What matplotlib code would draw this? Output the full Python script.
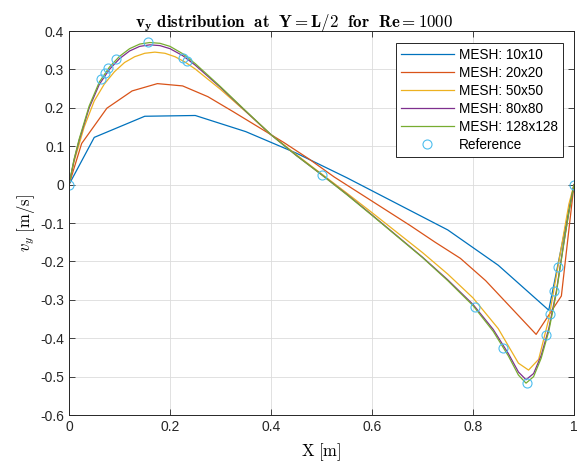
import matplotlib
matplotlib.use("Agg")
import matplotlib.pyplot as plt

plt.rcParams['mathtext.fontset'] = 'cm'
plt.rcParams['font.family'] = ['Liberation Sans', 'DejaVu Sans']

# ---- data ----
x10 = [0.0, 0.05, 0.15, 0.25, 0.35, 0.45, 0.55, 0.65, 0.75, 0.85, 0.95, 1.0]
v10 = [0.0, 0.123, 0.178, 0.180, 0.138, 0.082, 0.018, -0.050, -0.118, -0.210, -0.327, 0.0]

x20 = [0.0, 0.025, 0.075, 0.125, 0.175, 0.225, 0.275, 0.325, 0.375, 0.425, 0.475,
       0.525, 0.575, 0.625, 0.675, 0.725, 0.775, 0.825, 0.875, 0.925, 0.975, 1.0]
v20 = [0.0, 0.107, 0.199, 0.244, 0.263, 0.257, 0.229, 0.190, 0.150, 0.110, 0.067,
       0.020, -0.022, -0.064, -0.106, -0.150, -0.192, -0.250, -0.320, -0.390, -0.290, 0.0]

x50 = [0.0, 0.01, 0.03, 0.05, 0.07, 0.09, 0.11, 0.13, 0.15, 0.17, 0.19, 0.21, 0.23, 0.25,
       0.30, 0.35, 0.40, 0.45, 0.50, 0.55, 0.60, 0.65, 0.70, 0.75, 0.80, 0.85, 0.87,
       0.89, 0.91, 0.93, 0.95, 0.97, 0.99, 1.0]
v50 = [0.0, 0.060, 0.150, 0.218, 0.262, 0.294, 0.318, 0.333, 0.342, 0.345, 0.342, 0.333,
       0.319, 0.301, 0.248, 0.190, 0.130, 0.078, 0.028, -0.022, -0.073, -0.125, -0.177,
       -0.233, -0.295, -0.375, -0.420, -0.465, -0.483, -0.455, -0.350, -0.200, -0.050, 0.0]

x80 = [0.0, 0.01, 0.02, 0.04, 0.06, 0.08, 0.10, 0.12, 0.14, 0.16, 0.18, 0.20, 0.225, 0.25,
       0.30, 0.35, 0.40, 0.45, 0.50, 0.55, 0.60, 0.65, 0.70, 0.75, 0.80, 0.84, 0.87,
       0.89, 0.905, 0.92, 0.935, 0.95, 0.965, 0.98, 0.99, 1.0]
v80 = [0.0, 0.064, 0.115, 0.200, 0.261, 0.300, 0.328, 0.348, 0.360, 0.364, 0.362, 0.354,
       0.336, 0.311, 0.253, 0.191, 0.130, 0.076, 0.026, -0.025, -0.079, -0.134, -0.189,
       -0.248, -0.312, -0.377, -0.440, -0.488, -0.508, -0.492, -0.445, -0.375, -0.278,
       -0.150, -0.070, 0.0]

x128 = [0.0, 0.01, 0.02, 0.04, 0.06, 0.08, 0.10, 0.12, 0.14, 0.16, 0.18, 0.20, 0.225, 0.25,
        0.30, 0.35, 0.40, 0.45, 0.50, 0.55, 0.60, 0.65, 0.70, 0.75, 0.80, 0.84, 0.87,
        0.89, 0.905, 0.92, 0.935, 0.95, 0.965, 0.98, 0.99, 1.0]
v128 = [0.0, 0.066, 0.118, 0.205, 0.267, 0.306, 0.334, 0.354, 0.366, 0.370, 0.368, 0.360,
        0.341, 0.315, 0.255, 0.192, 0.130, 0.076, 0.026, -0.026, -0.080, -0.135, -0.190,
        -0.250, -0.315, -0.382, -0.446, -0.496, -0.517, -0.500, -0.452, -0.382, -0.282,
        -0.152, -0.071, 0.0]

xref = [1.0000, 0.9688, 0.9609, 0.9531, 0.9453, 0.9063, 0.8594, 0.8047, 0.5000,
        0.2344, 0.2266, 0.1563, 0.0938, 0.0781, 0.0703, 0.0625, 0.0000]
vref = [0.0, -0.21388, -0.27669, -0.33714, -0.39188, -0.51550, -0.42665, -0.31966,
        0.02526, 0.32235, 0.33075, 0.37095, 0.32627, 0.30353, 0.29012, 0.27485, 0.0]

labels = ['MESH: 10x10', 'MESH: 20x20', 'MESH: 50x50', 'MESH: 80x80', 'MESH: 128x128']
colors = ['#0072BD', '#D95319', '#EDB120', '#7E2F8E', '#77AC30']

xticks = [0, 0.2, 0.4, 0.6, 0.8, 1]
xticklabels = ['0', '0.2', '0.4', '0.6', '0.8', '1']
yticks = [-0.6, -0.5, -0.4, -0.3, -0.2, -0.1, 0, 0.1, 0.2, 0.3, 0.4]
yticklabels = ['-0.6', '-0.5', '-0.4', '-0.3', '-0.2', '-0.1', '0', '0.1', '0.2', '0.3', '0.4']

# ---- figure ----
fig = plt.figure(figsize=(5.77, 4.67), dpi=100)
ax = fig.add_axes([0.1196, 0.1113, 0.8752, 0.8223])

series = [(x10, v10), (x20, v20), (x50, v50), (x80, v80), (x128, v128)]
for (xs, vs), lab, c in zip(series, labels, colors):
    ax.plot(xs, vs, color=c, lw=0.9, label=lab)
ax.plot(xref, vref, linestyle='none', marker='o', markersize=6.5, markerfacecolor='none',
        markeredgecolor='#4DBEEE', markeredgewidth=0.8, label='Reference')

ax.set_xlim(0, 1)
ax.set_ylim(-0.6, 0.4)
ax.set_xticks(xticks)
ax.set_xticklabels(xticklabels)
ax.set_yticks(yticks)
ax.set_yticklabels(yticklabels)
ax.tick_params(direction='in', top=True, right=True, length=4, width=0.6,
               colors='#262626', labelsize=10, labelcolor='#262626')
ax.grid(True, color='#dcdcdc', lw=0.6)
ax.set_axisbelow(True)
for s in ax.spines.values():
    s.set_color('#262626')
    s.set_linewidth(0.7)

ax.set_title(r'$\mathbf{v_y}$ $\mathbf{distribution\ \ at\ \ Y = L/2\ \ for\ \ Re = 1000}$',
             fontsize=12.2, pad=3, x=0.445)
ax.set_xlabel(r'$\mathrm{X\ [m]}$', fontsize=12, labelpad=5)
ax.set_ylabel(r'$v_y\ \mathrm{[m/s]}$', fontsize=12, labelpad=2)

leg = ax.legend(loc='upper right', fontsize=9.8, fancybox=False, framealpha=1,
                edgecolor='#262626', handlelength=3.9, borderpad=0.35,
                labelspacing=0.3, handletextpad=0.4, borderaxespad=0,
                bbox_to_anchor=(0.978, 0.969))
leg.get_frame().set_linewidth(0.7)

fig.savefig('out.png', dpi=100)
